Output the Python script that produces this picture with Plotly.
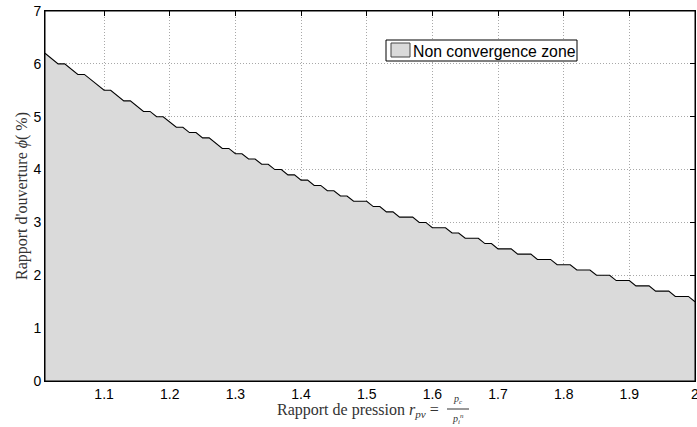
import plotly.graph_objects as go

# pressure ratio r_pv (x) and opening ratio phi in % (y)
r_pv = [1.01, 1.02, 1.03, 1.04, 1.05, 1.06, 1.07, 1.08, 1.09, 1.10,
        1.11, 1.12, 1.13, 1.14, 1.15, 1.16, 1.17, 1.18, 1.19, 1.20,
        1.21, 1.22, 1.23, 1.24, 1.25, 1.26, 1.27, 1.28, 1.29, 1.30,
        1.31, 1.32, 1.33, 1.34, 1.35, 1.36, 1.37, 1.38, 1.39, 1.40,
        1.41, 1.42, 1.43, 1.44, 1.45, 1.46, 1.47, 1.48, 1.49, 1.50,
        1.51, 1.52, 1.53, 1.54, 1.55, 1.56, 1.57, 1.58, 1.59, 1.60,
        1.61, 1.62, 1.63, 1.64, 1.65, 1.66, 1.67, 1.68, 1.69, 1.70,
        1.71, 1.72, 1.73, 1.74, 1.75, 1.76, 1.77, 1.78, 1.79, 1.80,
        1.81, 1.82, 1.83, 1.84, 1.85, 1.86, 1.87, 1.88, 1.89, 1.90,
        1.91, 1.92, 1.93, 1.94, 1.95, 1.96, 1.97, 1.98, 1.99, 2.00]
phi = [6.2, 6.1, 6.0, 6.0, 5.9, 5.8, 5.8, 5.7, 5.6, 5.5,
       5.5, 5.4, 5.3, 5.3, 5.2, 5.1, 5.1, 5.0, 5.0, 4.9,
       4.8, 4.8, 4.7, 4.7, 4.6, 4.6, 4.5, 4.4, 4.4, 4.3,
       4.3, 4.2, 4.2, 4.1, 4.1, 4.0, 4.0, 3.9, 3.9, 3.8,
       3.8, 3.7, 3.7, 3.6, 3.6, 3.5, 3.5, 3.4, 3.4, 3.4,
       3.3, 3.3, 3.2, 3.2, 3.1, 3.1, 3.1, 3.0, 3.0, 2.9,
       2.9, 2.9, 2.8, 2.8, 2.7, 2.7, 2.7, 2.6, 2.6, 2.5,
       2.5, 2.5, 2.4, 2.4, 2.4, 2.3, 2.3, 2.3, 2.2, 2.2,
       2.2, 2.1, 2.1, 2.1, 2.0, 2.0, 2.0, 1.9, 1.9, 1.9,
       1.8, 1.8, 1.8, 1.7, 1.7, 1.7, 1.6, 1.6, 1.6, 1.5]

x_tickvals = [1.1, 1.2, 1.3, 1.4, 1.5, 1.6, 1.7, 1.8, 1.9, 2.0]
x_ticktext = ["1.1", "1.2", "1.3", "1.4", "1.5", "1.6", "1.7", "1.8", "1.9", "2"]
y_tickvals = [0, 1, 2, 3, 4, 5, 6, 7]
y_ticktext = ["0", "1", "2", "3", "4", "5", "6", "7"]
legend_label = "Non convergence zone"

FILL = "#dadada"
SANS = "Liberation Sans, Arial, sans-serif"
SERIF = "Liberation Serif, Times New Roman, serif"

fig = go.Figure()
fig.add_trace(go.Scatter(
    x=r_pv, y=phi, mode="lines", fill="tozeroy",
    fillcolor=FILL, line=dict(color="black", width=1.1),
    name=legend_label, showlegend=False, hoverinfo="x+y",
))

axis_common = dict(
    showline=True, linecolor="black", linewidth=1, mirror="ticks",
    ticks="inside", ticklen=5, tickcolor="black", tickwidth=1,
    showgrid=True, gridcolor="#a8a8a8", griddash="1px,2px", gridwidth=1,
    zeroline=False, layer="below traces", ticklabeloverflow="allow",
    tickfont=dict(family=SANS, size=14, color="black"),
)

fig.update_xaxes(range=[1.01, 2.0], tickvals=x_tickvals, ticktext=x_ticktext,
                 **axis_common)
fig.update_yaxes(range=[0, 7], tickvals=y_tickvals, ticktext=y_ticktext,
                 title=dict(text="Rapport d'ouverture <i>ϕ</i>( %)",
                            font=dict(family=SERIF, size=16, color="#333"),
                            standoff=1),
                 **axis_common)

# axes box on top of the filled area
shapes = [dict(type="rect", xref="paper", yref="paper", x0=0, x1=1, y0=0, y1=1,
               line=dict(color="black", width=1), layer="above")]

# legend box drawn manually (MATLAB style)
W, H = 650.0, 370.0
def px(xp):
    return (xp - 45) / W
def py(yp):
    return (381 - yp) / H

shapes.append(dict(type="rect", xref="paper", yref="paper",
                   x0=px(386), x1=px(577), y0=py(61), y1=py(40),
                   line=dict(color="black", width=1), fillcolor="white", layer="above"))
shapes.append(dict(type="rect", xref="paper", yref="paper",
                   x0=px(391), x1=px(410), y0=py(57), y1=py(43),
                   line=dict(color="#444", width=1), fillcolor=FILL, layer="above"))
# fraction bar of the x label
shapes.append(dict(type="line", xref="paper", yref="paper",
                   x0=px(447), x1=px(469), y0=py(409), y1=py(409),
                   line=dict(color="#333", width=1), layer="above"))

annotations = [
    dict(text=legend_label, xref="paper", yref="paper", x=px(411), y=py(51),
         xanchor="left", yanchor="middle", showarrow=False,
         font=dict(family=SANS, size=15.8, color="black")),
    dict(text="Rapport de pression <i>r</i><sub><i>pv</i></sub> =",
         xref="paper", yref="paper", x=px(441), y=py(410),
         xanchor="right", yanchor="middle", showarrow=False,
         font=dict(family=SERIF, size=16, color="#333")),
    dict(text="<i>p</i><sub><i>c</i></sub>", xref="paper", yref="paper",
         x=px(458), y=py(408), xanchor="center", yanchor="bottom", showarrow=False,
         font=dict(family=SERIF, size=10, color="#333")),
    dict(text="<i>p</i><sub><i>i</i></sub><sup><i>n</i></sup>", xref="paper", yref="paper",
         x=px(458), y=py(410), xanchor="center", yanchor="top", showarrow=False,
         font=dict(family=SERIF, size=10, color="#333")),
]

fig.update_layout(
    width=697, height=427,
    margin=dict(l=45, r=2, t=11, b=46, autoexpand=False),
    paper_bgcolor="white", plot_bgcolor="white",
    shapes=shapes, annotations=annotations,
    showlegend=False,
)

fig.write_html(
    "out.html",
    config={"displayModeBar": False},
    post_script="document.body.style.margin='0';document.body.style.overflow='hidden';",
)
